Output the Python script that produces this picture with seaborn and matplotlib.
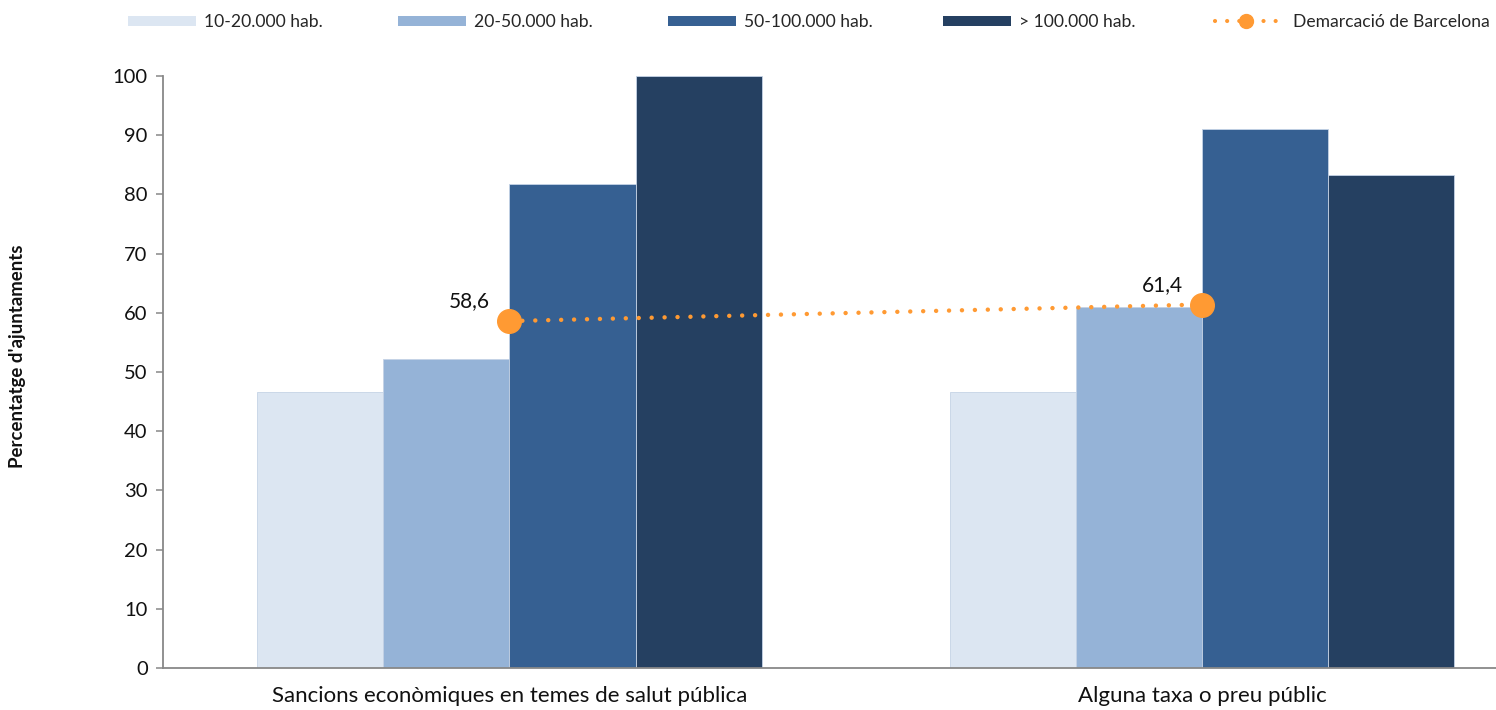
import matplotlib
matplotlib.use("Agg")
import matplotlib.pyplot as plt
import seaborn as sns
import pandas as pd
from matplotlib.patches import Patch
from matplotlib.lines import Line2D

categories = ["Sancions econòmiques en temes de salut pública", "Alguna taxa o preu públic"]
series_names = ["10-20.000 hab.", "20-50.000 hab.", "50-100.000 hab.", "> 100.000 hab."]
values_10_20 = [46.7, 46.7]
values_20_50 = [52.2, 61.0]
values_50_100 = [81.8, 91.0]
values_100 = [100.0, 83.3]
demarcacio = [58.6, 61.4]
demarcacio_labels = ["58,6", "61,4"]
line_name = "Demarcació de Barcelona"

colors = ["#DCE6F2", "#95B3D7", "#366092", "#254061"]
orange = "#FF9A33"

sns.set_theme(style="white")
plt.rcParams["font.family"] = ["Lato", "DejaVu Sans"]

rows = []
for name, vals in zip(series_names, [values_10_20, values_20_50, values_50_100, values_100]):
    for c, v in zip(categories, vals):
        rows.append({"cat": c, "serie": name, "val": v})
df = pd.DataFrame(rows)

fig = plt.figure(figsize=(14.96, 7.10), dpi=100)
ax = fig.add_axes([163/1496, 1-668/710, 1-163/1496, (668-76)/710])

sns.barplot(data=df, x="cat", y="val", hue="serie", order=categories,
            hue_order=series_names, palette=colors, saturation=1, width=0.728, gap=0,
            edgecolor="#C5D3E6", linewidth=0.6, ax=ax, legend=False)

ax.plot([0, 1], demarcacio, color=orange, linestyle=(0, (0.01, 2.9)),
        linewidth=3.2, dash_capstyle="round", zorder=5)
ax.plot([0, 1], demarcacio, color=orange, linestyle="none", marker="o",
        markersize=17, zorder=6)
for i, (v, lab) in enumerate(zip(demarcacio, demarcacio_labels)):
    ax.annotate(lab, (i, v), xytext=(-14, 7), textcoords="offset points",
                ha="right", va="bottom", fontsize=15, color="#111111")

ax.set_ylim(0, 100)
ax.set_xlim(-0.5, 1.424)
ax.set_yticks(range(0, 101, 10))
ax.tick_params(axis="y", which="both", left=True, length=5, width=1.1,
               color="#888888", labelsize=14.5, pad=6, labelcolor="#111111")
ax.tick_params(axis="x", bottom=False, labelsize=16, pad=7, labelcolor="#111111")
for s in ["top", "right"]:
    ax.spines[s].set_visible(False)
for s in ["left", "bottom"]:
    ax.spines[s].set_color("#888888")
    ax.spines[s].set_linewidth(1.3)
ax.set_xlabel("")
ax.set_ylabel("")
fig.text(18/1496, 1-356/710, "Percentatge d'ajuntaments", rotation=90,
         ha="center", va="center", fontsize=13.4, fontweight="bold", color="#111111")

# legend entries placed like the original
legend_x = [128, 398, 668, 943, 1215]
handles = [Patch(facecolor=c, edgecolor="none") for c in colors]
handles.append(Line2D([0], [0], color=orange, linestyle=(0, (0.01, 2.9)), linewidth=3.0,
                      dash_capstyle="round", marker="o", markersize=10))
labels = series_names + [line_name]
for x, h, l in zip(legend_x, handles, labels):
    is_patch = isinstance(h, Patch)
    fig.legend(handles=[h], labels=[l], loc="center left",
               bbox_to_anchor=(x/1496, 1-22/710), frameon=False,
               fontsize=12.6, handlelength=3.9 if is_patch else 3.55,
               handleheight=0.5, handletextpad=0.45 if is_patch else 0.9,
               borderpad=0, borderaxespad=0, numpoints=1)

fig.savefig("out.png", dpi=100, facecolor="white")
